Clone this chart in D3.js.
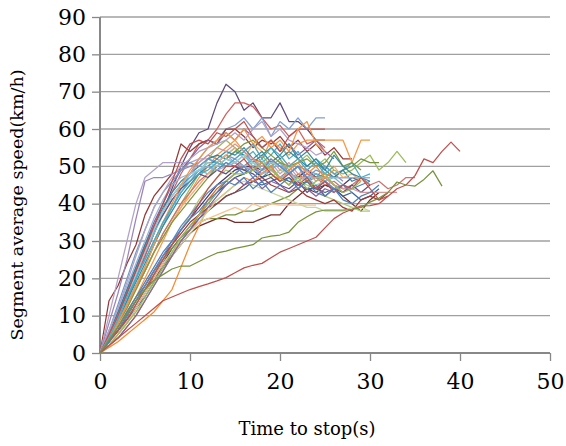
<!DOCTYPE html>
<html><head><meta charset="utf-8">
<script src="https://cdn.jsdelivr.net/npm/d3@7"></script>
<style>html,body{margin:0;padding:0;background:#fff;}svg{display:block;}</style>
</head><body><svg id="chart" width="566" height="446"></svg>
<script>
// Tick labels
const xTicks = [0, 10, 20, 30, 40, 50];
const yTicks = [0, 10, 20, 30, 40, 50, 60, 70, 80, 90];
const xTitle = "Time to stop(s)";
const yTitle = "Segment average speed(km/h)";

// Segment average speed (km/h) for each stop, one value per second from t = 0
const s01 = [0,5,10,15,20,26,32,38,44,50,55,59,60,67,72,70,65,67,63,63,67,62,62,60,57,57];
const s02 = [0,4,9,14,20,26,32,38,43,48,52,56,57,60,64,67,67,66,63,60,61,58,60,56,57,55];
const s03 = [0,4,8,13,18,23,29,34,39,44,48,52,55,57,60,61,63,60,63,58,62,60,63,60,63,63];
const s04 = [0,14,18,24,29,37,42,45,48,56,54,56,57,56,60,60,58,55,57,56,58,55,57,54,56,53,55,52,52];
const s05 = [0,10,20,30,40,47,49,51,51,51,51,52,52,51,53,51,50,52,49,51,48,50,47,49,48,47];
const s06 = [0,8,16,25,36,46,47,47,48,49,50,51,53,52,50,52,54,51,49,50,52,48,50,49,47,50,48,46];
const s07 = [0,5,10,16,21,27,33,38,42,45,47,49,50,49,51,50,48,50,47,49,51,48,50,46,48,47,45,44,44,45,46];
const s08 = [0,4,8,13,17,22,27,32,36,40,44,48,52,55,57,55,53,51,53,50,52,49,51,53,50,52,49,48,49,51,53,49,51,54,51];
const s09 = [0,5,11,17,23,29,35,40,45,49,52,55,57,56,59,57,60,58,55,57,54,56,53,55,57,54,52];
const s10 = [0,4,9,14,20,25,30,35,39,43,46,49,51,51,53,55,52,54,51,53,56,52,54,50,52,50,48,49,51,47,48];
const s11 = [0,3,7,11,15,20,25,30,35,39,43,47,50,53,55,57,54,56,52,57,55,53,56,57,57,57,57,57,51,57,57];
const s12 = [0,2,5,8,12,16,20,24,28,31,34,37,40,43,45,47,48,49,47,48,46,47,45,46,44,45,44,45,44];
const s13 = [0,3,6,10,14,17,20,23,26,29,32,34,35,36,36,35,35,35,36,37,37,40,42,44,43,45,44,42,40,38,41,43];
const s14 = [0,3,7,11,15,18,22,25,28,31,33,35,36,36,37,37,38,38,39,40,41,42,44,46,47,48,47,49,50,52,51,51];
const s15 = [0,3,6,9,13,17,21,25,29,33,36,39,42,45,47,49,50,50,49,51,50,48,47,49,47,46,44,45,47,46];
const s16 = [0,5,11,17,23,29,34,39,43,46,48,50,52,53,52,54,53,51,53,55,52,54,52,50,52,49,47,49,46,47,45];
const s17 = [0,2,4,7,10,14,18,22,26,30,33,37,41,44,46,48,50,52,51,49,47,45,48,46,44,47,45,43,45];
const s18 = [0,6,13,20,27,33,39,43,46,49,51,50,52,51,53,52,50,52,49,51,50,48,50,47,49,48,47,47,47,47,47];
const s19 = [0,4,8,13,18,22,27,32,36,40,43,46,48,50,52,51,49,50,48,50,47,49,46,48,47,45,46,44,45,47,45,46,44,45,47,47];
const s20 = [0,2,5,9,13,17,21,25,29,33,37,41,44,47,49,48,50,51,49,47,49,48,46,45,44,42,41,40,39,38,38];
const s21 = [0,5,10,16,22,27,32,37,41,44,47,49,48,50,52,51,53,50,52,49,51,48,50,47,48,46,47,45,44];
const s22 = [0,3,7,12,17,22,27,31,35,39,42,45,48,51,53,55,52,56,54,51,53,50,52,49,51,48,50,47,48,46];
const s23 = [0,3,6,9,12,15,19,23,27,30,33,36,38,40,42,43,44,46,45,46,47,46,45,44,44,43,44,42,43,41,42,44];
const s24 = [0,3,6,10,14,18,22,26,29,32,35,37,39,40,42,43,45,46,47,45,44,43,44,42,41,40,41,39,38,41,42,41,43];
const s25 = [0,4,8,12,17,22,27,31,35,38,41,44,47,50,52,54,56,57,55,53,51,50,51,52,50,51,54,50,51,49];
const s26 = [0,5,10,16,22,28,33,37,41,44,46,48,47,49,48,50,49,48,46,47,45,44,46,43,45,42,44,43,45,43,45];
const s27 = [0,4,9,14,19,24,29,34,38,42,45,48,50,52,54,53,55,52,54,51,53,56,52,54,51,49,53,50,48,47,46];
const s28 = [0,1.5,3,5,7,9,11,14,17,23,29,34,39,41,43,45,47,46,48,50,46,49,51,48,50,47,49];
const s29 = [0,6,12,18,24,30,36,41,45,47,48,49,50,49,50,51,50,49,48,49,47,48,47,47,47,47,47,47,47,47,47];
const s30 = [0,5,10,15,21,27,33,38,42,45,48,51,53,55,54,56,54,52,50,52,49,51,48,49,46,47,45,44,44,43,43,43,43,43];
const s31 = [0,2,5,8,11,14,18,22,26,29,32,35,38,41,43,45,46,45,44,43,42,41,40,39,39,38,38,38,39,39,38];
const s32 = [0,6,12,19,26,33,39,43,47,50,52,54,55,56,57,59,57,60,62,58,60,57,56,55,53,54];
const s33 = [0,4,9,15,21,27,33,38,42,45,48,49,51,50,52,51,53,51,49,51,50,48,46,47,45,46,44,45];
const s34 = [0,3,5,8,12,16,20,24,27,30,33,35,36,37,38,39,38,40,39,40,39.6,39.6,39.6,39.6,39.6];
const s35 = [0,5,10,16,22,28,34,40,46,52,56,57,56,59,58,60,62,58,55,57,54,58,60,60,60,60];
const s36 = [0,3,6,10,14,18,22,26,30,34,37,40,43,45,46,48,50,47,49,52,50,48,50,47,44,46,44,45,43];
const s37 = [0,4,8,13,18,23,29,35,40,45,49,52,55,57,59,57,60,56,58,55,57,54,60,62,56,54];
const s38 = [0,2,4,7,10,14,18,22,26,30,33,36,39,42,45,47,45,47,44,46,45,43,45,44,42,44,43];
const s39 = [0,4,9,15,20,25,30,35,39,43,46,48,49,51,50,52,54,56,52,55,53,50,52,49,51,48,50];
const s40 = [0,3,6,9,13,17,21,25,29,33,36,40,44,47,50,50,52,49,51,48,46,48,45,47,44,46,43,45,44,47,44,41,42];
const s41 = [0,2,5,8,11,15,19,23,27,31,34,37,40,43,46,48,48,49,51,49,47,45,47,44,46,48,45,43,44,46];
const s42 = [0,3,7,11,15,19,23,27,30,33,36,38,41,43,46,45,47,44,46,43,45,47,44,46,43,42,44,41,40,42,43,45];
const s43 = [0,2,4,6,8,10,12,14,15,16,17,17.8,18.5,19.3,20.2,21.5,22.8,23.5,24,25.5,27,28,29,30,31,33.5,36,37.5,38.5,39.4,39.5,40,42,44,45,47.5,52,51,54,56.5,54];
const s44 = [0,3.5,7,10.5,14,17,19.5,21,22.5,23.3,23.3,24.5,25.7,26.8,27.3,28,28.5,29,30.8,31.3,31.6,32.4,35,36.5,37.8,38.3,38.3,38.3,38.5,39,40.4,41.5,43,45.8,45,44.7,46.5,48.8,44.7];

const seriesValues = [s01,s02,s03,s04,s05,s06,s07,s08,s09,s10,s11,s12,s13,s14,s15,s16,s17,s18,s19,s20,s21,s22,
  s23,s24,s25,s26,s27,s28,s29,s30,s31,s32,s33,s34,s35,s36,s37,s38,s39,s40,s41,s42,s43,s44];
const seriesColors = ["#5F497A","#D0605E","#7F9FD0","#953735","#B3A2C7","#9A86B8","#4F81BD","#9BBB59","#8064A2","#4BACC6",
  "#F79646","#2C4D75","#772C2A","#77933C","#4D3B62","#31859C","#E46C0A","#729ACA","#CD7371","#AFC97A","#6FBDD1",
  "#F9AB6B","#3A6595","#9C3A38","#7D9A3F","#664E82","#358BA2","#F58A2F","#95B3D7","#D99694","#C3D69B","#B2A1C7",
  "#93CDDD","#FAC090","#C0504D","#5B8AC5","#F79646","#8064A2","#4BACC6","#C0504D","#9BBB59","#4F81BD","#C0504D","#77933C"];

const svg = d3.select("#chart");
const x = d3.scaleLinear().domain([0, 50]).range([100, 550]);
const y = d3.scaleLinear().domain([0, 90]).range([353, 17]);
const font = "'DejaVu Serif', 'Liberation Serif', serif";

// gridlines
svg.append("g").selectAll("line").data(yTicks.filter(d => d > 0)).join("line")
  .attr("x1", x(0)).attr("x2", x(50)).attr("y1", d => y(d)).attr("y2", d => y(d))
  .attr("stroke", "#a0a0a0").attr("stroke-width", 1.3);

// axes
const yAxis = svg.append("g").attr("transform", `translate(${x(0)},0)`)
  .call(d3.axisLeft(y).tickValues(yTicks).tickSize(8).tickPadding(6).tickFormat(d3.format("d")));
const xAxis = svg.append("g").attr("transform", `translate(0,${y(0)})`)
  .call(d3.axisBottom(x).tickValues(xTicks).tickSize(8).tickPadding(12).tickFormat(d3.format("d")));
[yAxis, xAxis].forEach(g => {
  g.select(".domain").attr("stroke", "#888").attr("stroke-width", 2);
  g.selectAll(".tick line").attr("stroke", "#888").attr("stroke-width", 1.3);
  g.selectAll(".tick text").attr("fill", "#000").style("font-family", font).style("font-size", "22px");
});
yAxis.select(".domain").attr("d", `M0,${y(0)}V${y(90)}`);
xAxis.select(".domain").attr("d", `M${x(0)},0H${x(50)}`);

// lines
const line = d3.line().x((d, i) => x(i)).y(d => y(d));
svg.append("g").selectAll("path").data(seriesValues).join("path")
  .attr("d", d => line(d)).attr("fill", "none")
  .attr("stroke", (d, i) => seriesColors[i]).attr("stroke-width", 1.25)
  .attr("stroke-linejoin", "round");

// titles
svg.append("text").attr("x", 307).attr("y", 435).attr("text-anchor", "middle")
  .style("font-family", font).style("font-size", "18px").attr("fill", "#000").text(xTitle);
svg.append("text").attr("transform", "translate(23,205) rotate(-90)").attr("text-anchor", "middle")
  .style("font-family", font).style("font-size", "17.5px").attr("fill", "#000").text(yTitle);
</script></body></html>
